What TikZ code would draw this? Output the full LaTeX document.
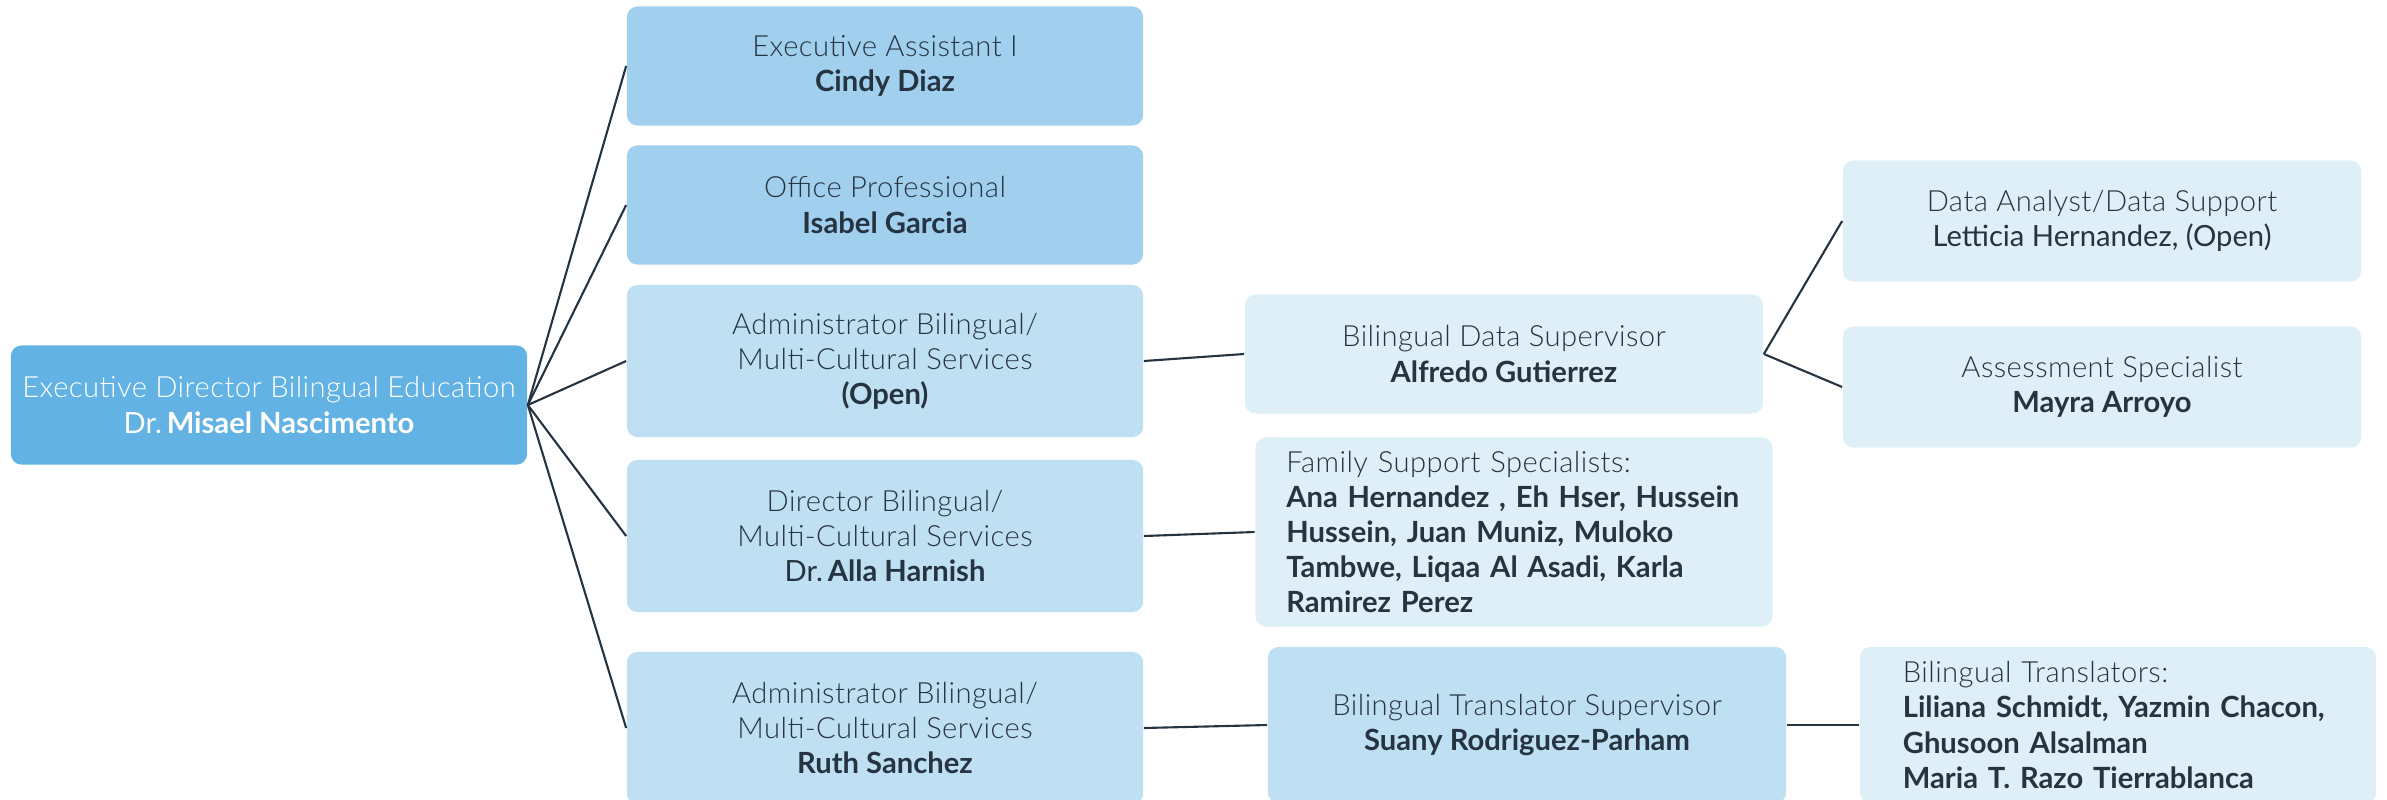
\documentclass[tikz,border=0pt]{standalone}
\usepackage{fontspec}
\setmainfont{Lato}[UprightFont={* Light}, UprightFeatures={LetterSpace=1.5}, BoldFont={* Bold}]
\newfontfamily\regfont{Lato}

\definecolor{topblue}{HTML}{62B3E4}
\definecolor{midblue}{HTML}{A0D0EE}
\definecolor{lightblue}{HTML}{BFE0F3}
\definecolor{paleblue}{HTML}{DEEFF8}
\definecolor{inkdark}{HTML}{263442}

\begin{document}
\begin{tikzpicture}[x=0.01cm, y=-0.01cm,
	font=\fontsize{8.3}{10}\selectfont, text=inkdark,
	post/.style={rounded corners=3pt, align=center, inner sep=0pt, minimum width=5.16cm, minimum height=1.19cm},
	link/.style={draw=inkdark, line width=0.6pt}]
	\useasboundingbox (0,0) rectangle (2387,799);

	\node[post, fill=topblue, text=white] (ED) at (269,405) {Executive Director Bilingual Education\\{\regfont Dr.}\,\textbf{Misael Nascimento}};

	\node[post, fill=midblue] (EA) at (885,66) {Executive Assistant I\\\textbf{Cindy Diaz}};
	\node[post, fill=midblue] (OP) at (885,205) {Office Professional\\\textbf{Isabel Garcia}};
	\node[post, fill=lightblue, minimum height=1.52cm] (ADM) at (885,361) {Administrator Bilingual/\\Multi-Cultural Services\\\textbf{(Open)}};
	\node[post, fill=lightblue, minimum height=1.52cm] (DIR) at (885,536) {Director Bilingual/\\Multi-Cultural Services\\{\regfont Dr.}\,\textbf{Alla Harnish}};
	\node[post, fill=lightblue, minimum height=1.52cm] (RS) at (885,728) {Administrator Bilingual/\\Multi-Cultural Services\\\textbf{Ruth Sanchez}};

	\node[post, fill=paleblue, minimum width=5.18cm] (BDS) at (1504,354) {Bilingual Data Supervisor\\\textbf{Alfredo Gutierrez}};
	\node[post, fill=paleblue, minimum width=5.17cm, minimum height=1.89cm, align=left, text width=4.55cm] (FS) at (1514,532) {Family Support Specialists:\\\textbf{Ana Hernandez , Eh Hser, Hussein}\\\textbf{Hussein, Juan Muniz, Muloko}\\\textbf{Tambwe, Liqaa Al Asadi, Karla}\\\textbf{Ramirez Perez}};
	\node[post, fill=lightblue, minimum width=5.18cm, minimum height=1.56cm] (TS) at (1527,725) {Bilingual Translator Supervisor\\\textbf{Suany Rodriguez-Parham}};

	\node[post, fill=paleblue, minimum width=5.18cm, minimum height=1.21cm] (DA) at (2102,221) {Data Analyst/Data Support\\{\regfont Letticia Hernandez, (Open)}};
	\node[post, fill=paleblue, minimum width=5.18cm, minimum height=1.21cm] (AS) at (2102,387) {Assessment Specialist\\\textbf{Mayra Arroyo}};
	\node[post, fill=paleblue, minimum width=5.16cm, minimum height=1.56cm, align=left, text width=4.3cm] (TR) at (2118,725) {Bilingual Translators:\\\textbf{Liliana Schmidt, Yazmin Chacon,}\\\textbf{Ghusoon Alsalman}\\\textbf{Maria T. Razo Tierrablanca}};

	\foreach \kid in {EA,OP,ADM,DIR,RS}
		\draw[link] (ED.east) -- (\kid.west);
	\draw[link] (ADM.east) -- (BDS.west);
	\draw[link] (BDS.east) -- (DA.west);
	\draw[link] (BDS.east) -- (AS.west);
	\draw[link] (DIR.east) -- (FS.west);
	\draw[link] (RS.east) -- (TS.west);
	\draw[link] (TS.east) -- (TR.west);
\end{tikzpicture}
\end{document}
